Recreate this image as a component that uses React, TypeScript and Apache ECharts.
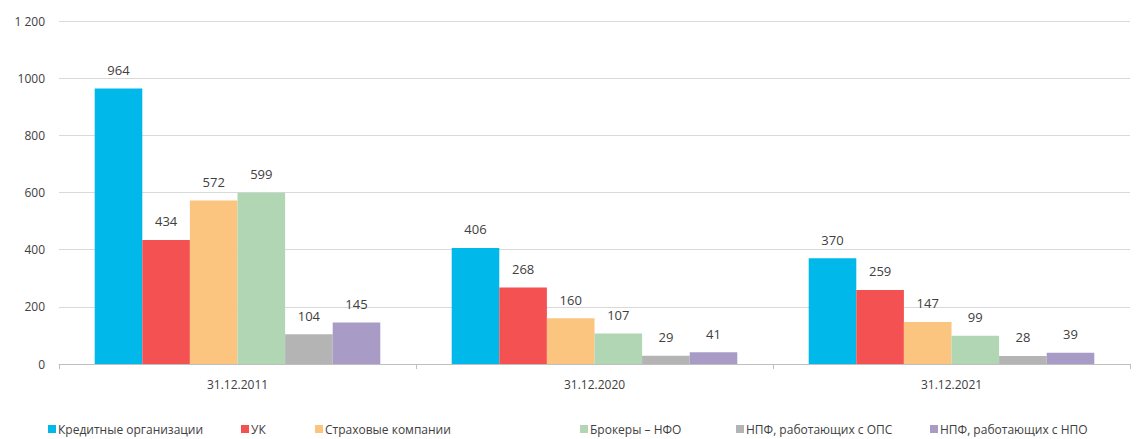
import React, { useEffect, useRef } from "react";
import * as echarts from "echarts";

const categories = ["31.12.2011", "31.12.2020", "31.12.2021"];
const seriesNames = [
  "Кредитные организации",
  "УК",
  "Страховые компании",
  "Брокеры – НФО",
  "НПФ, работающих с ОПС",
  "НПФ, работающих с НПО",
];
const kreditnye = [964, 406, 370];
const uk = [434, 268, 259];
const strahovye = [572, 160, 147];
const brokery = [599, 107, 99];
const npfOps = [104, 29, 28];
const npfNpo = [145, 41, 39];
const yTickLabels: Record<number, string> = { 0: "0", 200: "200", 400: "400", 600: "600", 800: "800", 1000: "1000", 1200: "1 200" };
const colors = ["#00B9EA", "#F45153", "#FBC47F", "#B0D6B4", "#B4B4B4", "#A89CC6"];
const legendLeft = [48, 241, 315, 580, 736, 930];

export default function App() {
  const ref = useRef<HTMLDivElement>(null);
  useEffect(() => {
    document.body.style.margin = "0";
    const chart = echarts.init(ref.current!, null, { renderer: "svg" });
    const values = [kreditnye, uk, strahovye, brokery, npfOps, npfNpo];
    const font = "'Open Sans', sans-serif";
    chart.setOption({
      animation: false,
      textStyle: { fontFamily: font },
      grid: { left: 59, right: 10, top: 21, bottom: 75, containLabel: false },
      legend: seriesNames.map((n, i) => ({
        data: [n],
        left: legendLeft[i],
        top: 423,
        itemWidth: 8,
        itemHeight: 8,
        itemGap: 4,
        icon: "rect",
        textStyle: { fontSize: 12, color: "#404040", fontFamily: font, padding: [0, 0, 0, -3] },
        padding: 0,
      })),
      xAxis: {
        type: "category",
        data: categories,
        axisLine: { lineStyle: { color: "#BFBFBF" } },
        axisTick: { show: true, length: 5, lineStyle: { color: "#BFBFBF" } },
        axisLabel: { fontSize: 12, color: "#404040", margin: 14 },
      },
      yAxis: {
        type: "value",
        min: 0,
        max: 1200,
        interval: 200,
        axisLine: { show: false },
        axisTick: { show: false },
        splitLine: { lineStyle: { color: "#D9D9D9" } },
        axisLabel: {
          fontSize: 12,
          color: "#404040",
          margin: 14,
          formatter: (v: number) => yTickLabels[v] ?? String(v),
        },
      },
      series: seriesNames.map((n, i) => ({
        name: n,
        type: "bar",
        data: values[i],
        barGap: "0%",
        barCategoryGap: "20%",
        itemStyle: { color: colors[i] },
        label: { show: true, position: "top", distance: 12, fontSize: 13, color: "#404040" },
      })),
    });
    return () => chart.dispose();
  }, []);
  return <div ref={ref} style={{ width: 1140, height: 439 }} />;
}
